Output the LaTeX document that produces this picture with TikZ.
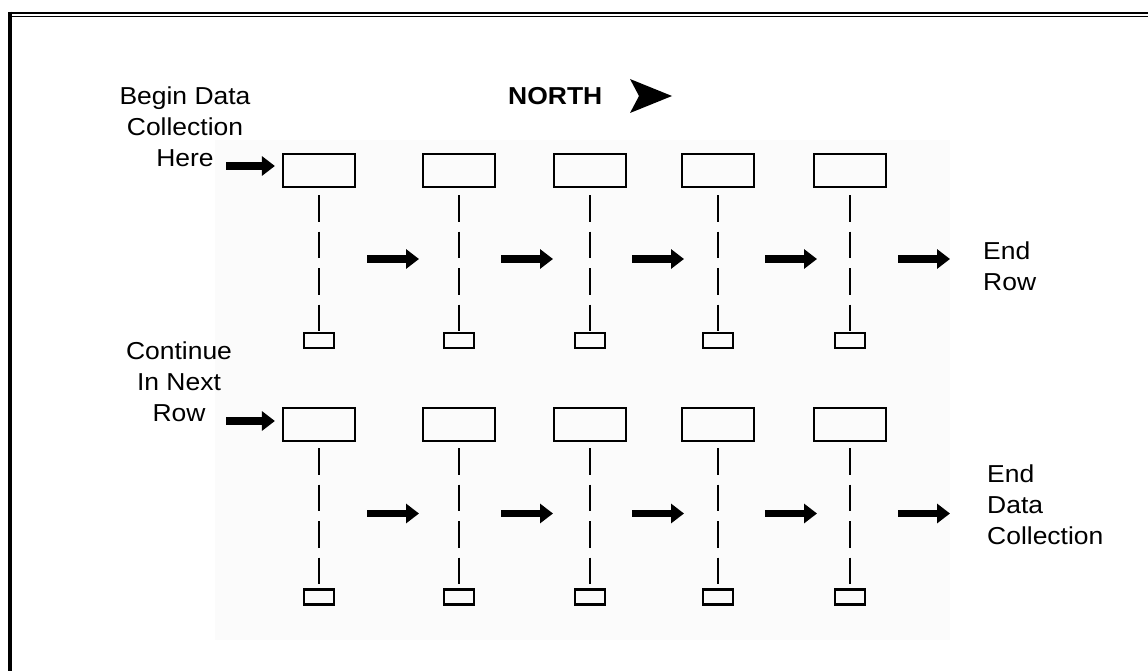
\documentclass[tikz,border=0pt]{standalone}
\usepackage{fontspec}
\setmainfont{Liberation Sans}[FakeStretch=1.08]
\usetikzlibrary{arrows.meta}
\begin{document}
\begin{tikzpicture}[x=1pt,y=-1pt,
  bigbox/.style={draw,line width=2.2pt,minimum width=72pt,minimum height=33pt,inner sep=0pt},
  smallbox/.style={draw,line width=2.2pt,minimum width=30pt,minimum height=15pt,inner sep=0pt},
  dashline/.style={line width=2pt,dash pattern=on 26.5pt off 10pt},
  flow/.style={line width=7.5pt,-{Triangle[length=13pt,width=19pt]}},
  lbl/.style={font=\fontsize{24.5}{31}\selectfont,inner sep=0pt}
]
\useasboundingbox (0,0) rectangle (1148,671);
% faint background panel
\fill[black!1.5] (215,140) rectangle (950,640);
% frame
\draw[line width=2.5pt] (8,13) -- (1148,13);
\draw[line width=1.2pt] (10,16.5) -- (1148,16.5);
\draw[line width=4pt] (10,11.75) -- (10,671);

% labels (anchor = baseline of last line)
\node[lbl,align=center,anchor=base] (begin) at (185,167) {Begin Data\\Collection\\Here};
\node[lbl,align=center,anchor=base] (cont) at (179,421) {Continue\\In Next\\Row};
\node[lbl,align=left,anchor=base west] (endrow) at (983,290) {End\\Row};
\node[lbl,align=left,anchor=base west] (enddata) at (987,544) {End\\Data\\Collection};
\node[lbl,anchor=base west] (north) at (508,105) {\bfseries NORTH};
\fill (630,79) -- (672,96) -- (630,113) -- (639,96) -- cycle;

% columns
\foreach \i/\x in {1/319,2/459,3/590,4/718,5/850}{
  \node[bigbox] (t\i) at (\x,170.5) {};
  \node[smallbox] (ts\i) at (\x,340.5) {};
  \draw[dashline] ([yshift=-7pt]t\i.south) -- (ts\i.north);
  \node[bigbox] (b\i) at (\x,424.5) {};
  \node[smallbox] (bs\i) at (\x,597) {};
  \draw[dashline] ([yshift=-6pt]b\i.south) -- (bs\i.north);
}

% entry arrows
\coordinate (ta0) at (226,166);
\coordinate (ba0) at (226,421);
\draw[flow] (ta0) -- ([xshift=-7pt]t1.west |- ta0);
\draw[flow] (ba0) -- ([xshift=-7pt]b1.west |- ba0);

% flow arrows
\foreach \k/\s in {1/367,2/501,3/632,4/765,5/898}{
  \coordinate (tf\k a) at (\s,259);
  \coordinate (tf\k b) at (\s+52,259);
  \draw[flow] (tf\k a) -- (tf\k b);
  \coordinate (bf\k a) at (\s,513.5);
  \coordinate (bf\k b) at (\s+52,513.5);
  \draw[flow] (bf\k a) -- (bf\k b);
}
\end{tikzpicture}
\end{document}
